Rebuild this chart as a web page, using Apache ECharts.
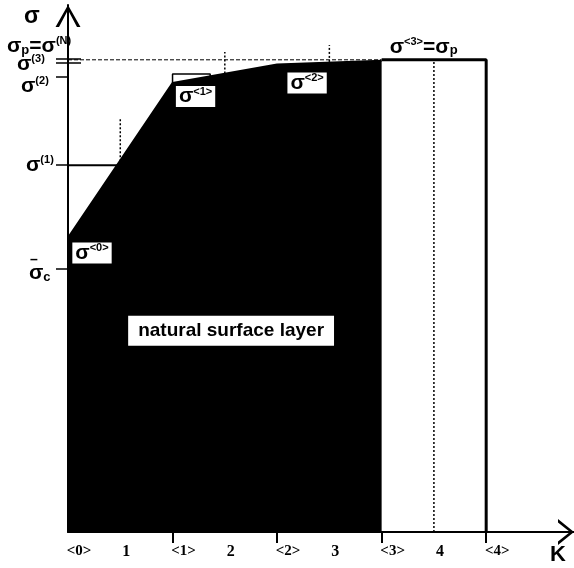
<!DOCTYPE html>
<html><head><meta charset="utf-8">
<script src="https://cdn.jsdelivr.net/npm/echarts@6/dist/echarts.min.js"></script>
<style>html,body{margin:0;padding:0;background:#fff}#c{width:574px;height:568px}</style>
</head><body><div id="c"></div>
<script>
// ---------------- data ----------------
const stageK = [0, 1, 2, 3];                    // positions <k>
const stageSigma = [55.8, 85.2, 88.7, 89.4];    // σ<k>
const stageNames = ['0', '1', '2', '3'];
const sigmaP = 89.6;                            // σp
const endK = 4;                                 // <4>
const sigma3Ticks = [89.8, 89.1];               // σ(3) double tick
const yTickValues = [89.8, 89.1, 86.3, 69.6, 49.9]; // σ(3), σ(2), σ(1), σ̄c
const sigma1 = 69.6;
const stepTop = 86.9;                           // small step outline above <1>
const stepEndK = 1.36;
const xTickValues = [0, 0.5, 1, 1.5, 2, 2.5, 3, 3.5, 4];
const xTickLabels = ['<0>', '1', '<1>', '2', '<2>', '3', '<3>', '4', '<4>'];
const xMajorTicks = [1, 2, 3, 4];
const yLabelValues = [97.7, 92.2, 88.8, 84.6, 69.6, 49.6];
const yLabelKinds = ['axis', 'pN', 's3', 's2', 's1', 'sc'];
const dottedK = [0.5, 1.5, 2.5, 3.5];
const dottedFrom = [69.6, 87.0, 89.2, 0];
const dottedTo = [78.6, 91.1, 92.4, sigmaP];
const layerLabel = 'natural surface layer';
const layerLabelAt = [1.56, 38.2];

// ---------------- styles ----------------
const SANS = 'Liberation Sans';
const SERIF = 'Liberation Serif';
const yLabelPad = [17, 0, 10, 14, 19, 22];
const stageLabelOffsets = [[24, 15], [23, 13.5], [30, 18.5], [42, -14]];

const richBase = {
  s: {fontFamily: SANS, fontWeight: 'bold', fontSize: 21, color: '#000'},
  big: {fontFamily: SANS, fontWeight: 'bold', fontSize: 23, color: '#000'},
  sup: {fontFamily: SANS, fontWeight: 'bold', fontSize: 11, color: '#000', verticalAlign: 'top'},
  sub: {fontFamily: SANS, fontWeight: 'bold', fontSize: 13, color: '#000', verticalAlign: 'bottom'},
  bar: {fontFamily: SANS, fontWeight: 'bold', fontSize: 14, color: '#000', lineHeight: 5, padding: [0, 0, 0, 1]}
};
const yRich = Object.assign({}, richBase);
yLabelPad.forEach((p, i) => {
  yRich['p' + i] = {width: p, height: 1};
});
function yLabelText(kind, i) {
  const pad = '{p' + i + '|}';
  switch (kind) {
    case 'axis': return pad + '{big|σ}';
    case 'pN': return pad + '{s|σ}{sub|p}{s|=σ}{sup|(N)}';
    case 's3': return pad + '{s|σ}{sup|(3)}';
    case 's2': return pad + '{s|σ}{sup|(2)}';
    case 's1': return pad + '{s|σ}{sup|(1)}';
    case 'sc': return pad + '{bar|–}\n' + pad + '{s|σ}{sub|c}';
  }
  return '';
}

const xKAtSigma1 = stageK[0] + (sigma1 - stageSigma[0]) / (stageSigma[1] - stageSigma[0]) * (stageK[1] - stageK[0]);
const stepEndSigma = stageSigma[1] + (stepEndK - stageK[1]) * (stageSigma[2] - stageSigma[1]);

const lineBase = {type: 'line', symbol: 'none', clip: false, silent: true, animation: false};

const series = [
  Object.assign({}, lineBase, {
    name: 'layer',
    data: stageK.map((k, i) => [k, stageSigma[i]]),
    lineStyle: {color: '#000', width: 2},
    areaStyle: {color: '#000', opacity: 1},
    z: 2
  }),
  Object.assign({}, lineBase, {
    data: [[stageK[1], stageSigma[1]], [stageK[1], stepTop], [stepEndK, stepTop], [stepEndK, stepEndSigma]],
    lineStyle: {color: '#000', width: 1.5}, z: 3
  }),
  Object.assign({}, lineBase, {
    data: [[stageK[3], sigmaP], [endK, sigmaP], [endK, 0]],
    lineStyle: {color: '#000', width: 3}, z: 4
  }),
  Object.assign({}, lineBase, {
    data: [[0, sigmaP], [stageK[3], sigmaP]],
    lineStyle: {color: '#000', width: 1, type: [4, 2]}, z: 3
  }),
  Object.assign({}, lineBase, {
    data: [[0, sigma1], [xKAtSigma1, sigma1]],
    lineStyle: {color: '#000', width: 2}, z: 3
  })
];
dottedK.forEach((k, i) => series.push(Object.assign({}, lineBase, {
  data: [[k, dottedFrom[i]], [k, dottedTo[i]]],
  lineStyle: {color: '#000', width: 1.5, type: [2, 2]}, z: 3
})));
series.push({
  type: 'scatter', symbolSize: 0, silent: true, animation: false, clip: false, z: 10,
  itemStyle: {opacity: 1},
  data: stageK.map((k, i) => ({
    value: [k, stageSigma[i]],
    label: {
      show: true, position: 'inside', offset: stageLabelOffsets[i], opacity: 1,
      formatter: i === 3
        ? '{s|σ}{sup|<' + stageNames[i] + '>}{s|=σ}{sub|p}'
        : '{s|σ}{sup|<' + stageNames[i] + '>}',
      backgroundColor: i === 3 ? 'transparent' : '#fff',
      borderColor: '#000', borderWidth: i === 3 ? 0 : 1, borderType: 'dotted',
      padding: [0, 3, 0, 3],
      rich: richBase
    }
  }))
});
series.push({
  type: 'scatter', symbolSize: 0, silent: true, animation: false, clip: false, z: 10,
  itemStyle: {opacity: 1},
  data: [{value: layerLabelAt, label: {
    show: true, position: 'inside', formatter: layerLabel, opacity: 1,
    fontFamily: SANS, fontWeight: 'bold', fontSize: 19, color: '#000',
    backgroundColor: '#fff', padding: [6, 10, 5, 10]
  }}]
});

const chart = echarts.init(document.getElementById('c'), null, {renderer: 'canvas'});
chart.setOption({
  animation: false,
  backgroundColor: '#fff',
  grid: {left: 68, right: 0, top: 5, bottom: 36, containLabel: false, outerBoundsMode: 'none'},
  xAxis: {
    type: 'value', min: 0, max: 4.84,
    name: 'K', nameLocation: 'end', nameGap: -24,
    nameTextStyle: {fontFamily: SANS, fontWeight: 'bold', fontSize: 22, color: '#000', verticalAlign: 'top', padding: [12, 0, 0, 0]},
    axisLine: {show: true, lineStyle: {color: '#000', width: 2},
      symbol: ['none', 'path://M0,16 L13,0 L26,16 L22.5,16 L13,4 L3.5,16 Z'],
      symbolSize: [26, 16], symbolOffset: [0, -8]},
    axisTick: {show: true, customValues: xMajorTicks, length: 11, lineStyle: {color: '#000', width: 2}},
    axisLabel: {
      show: true, customValues: xTickValues, margin: 12,
      formatter: v => {
        const i = xTickValues.indexOf(v);
        const t = xTickLabels[i];
        return t.charAt(0) === '<' ? '{a|' + t + '}' : '{b|' + t + '}';
      },
      rich: {
        a: {fontFamily: SERIF, fontWeight: 'bold', fontSize: 15, color: '#000', padding: [0, 0, 0, 22]},
        b: {fontFamily: SERIF, fontWeight: 'bold', fontSize: 16, color: '#000', padding: [0, 0, 0, 12]}
      }
    },
    splitLine: {show: false}
  },
  yAxis: [{
    type: 'value', min: 0, max: 100,
    axisLine: {show: true, lineStyle: {color: '#000', width: 2},
      symbol: ['none', 'path://M0,22 L12.5,0 L25,22 L21.5,22 L12.5,5 L3.5,22 Z'],
      symbolSize: [25, 22], symbolOffset: [0, -11]},
    axisTick: {show: true, customValues: yTickValues, length: 12, lineStyle: {color: '#000', width: 1.5}},
    axisLabel: {
      show: true, customValues: yLabelValues, margin: 61, align: 'left',
      formatter: v => {
        const i = yLabelValues.indexOf(v);
        return yLabelText(yLabelKinds[i], i);
      },
      rich: yRich
    },
    splitLine: {show: false}
  }, {
    type: 'value', min: 0, max: 100, position: 'left', offset: 0,
    axisLine: {show: false},
    axisTick: {show: true, inside: true, customValues: sigma3Ticks, length: 13, lineStyle: {color: '#000', width: 1.5}},
    axisLabel: {show: false},
    splitLine: {show: false}
  }],
  series: series
});
</script>
</body></html>
